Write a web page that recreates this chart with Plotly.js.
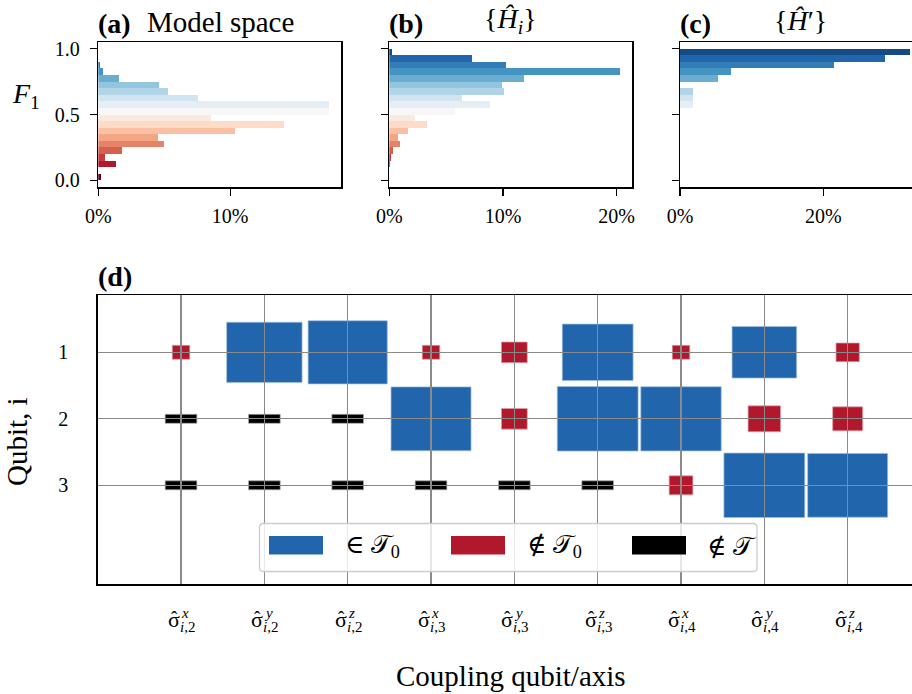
<!DOCTYPE html>
<html><head><meta charset="utf-8">
<script src="https://cdn.plot.ly/plotly-3.0.1.min.js"></script>
<style>html,body{margin:0;padding:0;background:#fff;} #chart{width:912px;height:694px;}</style>
</head><body><div id="chart"></div>
<script>
// ---------- data ----------
const binLeft = [0.00,0.05,0.10,0.15,0.20,0.25,0.30,0.35,0.40,0.45,0.50,0.55,0.60,0.65,0.70,0.75,0.80,0.85,0.90,0.95];
const binWidth = 0.05;
const pctModelSpace = [0.18,0,1.34,0.5,1.8,4.95,4.52,10.36,14.07,8.54,17.5,17.5,7.55,5.25,4.57,1.57,0.33,0.1,0,0];
const pctHi = [0,0,0.1,0.15,0.3,0.94,0.76,1.64,3.31,2.26,5.78,8.86,6.39,10.09,9.91,11.82,20.3,10.26,7.27,0.27];
const pctHprime = [0,0,0,0,0,0,0,0,0,0,0,1.77,1.77,1.77,0,5.3,7.12,21.5,28.6,32.1];
const pctTicksAB = [0,10,20];
const pctTickTextAB = ['0%','10%','20%'];
const pctTicksC = [0,20];
const pctTickTextC = ['0%','20%'];
const f1Ticks = [0,0.5,1];
const f1TickText = ['0.0','0.5','1.0'];

const couplingAxis = ['x','y','z','x','y','z','x','y','z'];
const couplingQubit = ['2','2','2','3','3','3','4','4','4'];
const qubitLabels = ['1','2','3'];
const magQ1 = [0.21,0.905,0.95,0.21,0.31,0.85,0.21,0.775,0.28];
const classQ1 = ['out0','in','in','out0','out0','in','out0','in','out0'];
const magQ2 = [null,null,null,0.96,0.31,0.97,0.965,0.39,0.36];
const classQ2 = ['outT','outT','outT','in','out0','in','in','out0','out0'];
const magQ3 = [null,null,null,null,null,null,0.285,0.97,0.96];
const classQ3 = ['outT','outT','outT','outT','outT','outT','out0','in','in'];
const legendLabels = ['∈ 𝒯<sub>0</sub>','∉ 𝒯<sub>0</sub>','∉ 𝒯'];

// ---------- styles ----------
const W = 912, H = 694;
const X = px => px / W;
const Y = py => 1 - py / H;
const FONT = 'Liberation Serif, Times New Roman, DejaVu Serif, serif';
const rdbu = [[0,'#67001f'],[0.1,'#b2182b'],[0.2,'#d6604d'],[0.3,'#f4a582'],[0.4,'#fddbc7'],
  [0.5,'#f7f7f7'],[0.6,'#d1e5f0'],[0.7,'#92c5de'],[0.8,'#4393c3'],[0.9,'#2166ac'],[1,'#053061']];
const classColor = {in:'#2166ac', out0:'#b2182b', outT:'#000000'};
const classEdge = {in:'rgba(160,190,225,0.9)', out0:'rgba(225,160,170,0.9)', outT:'rgba(170,170,170,0.9)'};
const dashW = 0.38, dashH = 0.135;

const binCenters = binLeft.map(b => b + binWidth/2);
function hist(vals, xa, ya){
  return {type:'bar', orientation:'h', x: vals, y: binCenters, width: binWidth,
    xaxis: xa, yaxis: ya, hoverinfo:'skip', showlegend:false,
    marker:{color: binLeft, colorscale: rdbu, cmin:0, cmax:1, showscale:false, line:{width:0}}};
}
const cols = couplingAxis.map((_, i) => i + 1);
const traces = [
  hist(pctModelSpace,'x','y'),
  hist(pctHi,'x2','y2'),
  hist(pctHprime,'x3','y3'),
  {type:'scatter', mode:'markers', x: cols, y: cols.map(()=>2), xaxis:'x4', yaxis:'y4',
   marker:{opacity:0}, hoverinfo:'skip', showlegend:false}
];

const shapes = [];
[[magQ1,classQ1],[magQ2,classQ2],[magQ3,classQ3]].forEach(([mags, cls], r) => {
  const yc = r + 1;
  mags.forEach((m, c) => {
    const xc = c + 1;
    const k = cls[c];
    const w = k === 'outT' ? dashW : m;
    const h = k === 'outT' ? dashH : m;
    shapes.push({type:'rect', xref:'x4', yref:'y4', layer:'below',
      x0: xc - w/2, x1: xc + w/2, y0: yc - h/2, y1: yc + h/2,
      fillcolor: classColor[k], line:{color: classEdge[k], width:0.8}});
  });
});

// legend frame (rounded)
function rrect(x0,y0,x1,y1,r){
  const p = (x,y)=> X(x)+','+Y(y);
  return 'M'+p(x0+r,y0)+' L'+p(x1-r,y0)+' Q'+p(x1,y0)+' '+p(x1,y0+r)+
    ' L'+p(x1,y1-r)+' Q'+p(x1,y1)+' '+p(x1-r,y1)+' L'+p(x0+r,y1)+' Q'+p(x0,y1)+' '+p(x0,y1-r)+
    ' L'+p(x0,y0+r)+' Q'+p(x0,y0)+' '+p(x0+r,y0)+' Z';
}
shapes.push({type:'path', xref:'paper', yref:'paper', layer:'above', path: rrect(259.5,523.5,757,571.5,4),
  fillcolor:'rgba(255,255,255,0.8)', line:{color:'#cccccc', width:1.3}});
const legPatchX = [269, 451, 632];
const legKeys = ['in','out0','outT'];
const legTextX = [343, 525, 705];
legKeys.forEach((k,i)=>{
  shapes.push({type:'rect', xref:'paper', yref:'paper', layer:'above',
    x0: X(legPatchX[i]), x1: X(legPatchX[i]+54), y0: Y(554.5), y1: Y(536),
    fillcolor: classColor[k], line:{width:0}});
});

const ann = [];
const tf = (size, extra) => Object.assign({family: FONT, size: size, color:'#000'}, extra||{});
function A(text, x, y, opts){ ann.push(Object.assign({text, x, y, xref:'paper', yref:'paper', showarrow:false,
  xanchor:'center', yanchor:'middle', font: tf(28)}, opts||{})); }
A('<b>(a)</b>', X(96), Y(23), {xanchor:'left'});
A('Model space', X(220), Y(22), {font: tf(29)});
A('<b>(b)</b>', X(387), Y(23), {xanchor:'left'});
A('{<i>Ĥ</i><sub><i>i</i></sub>}', X(510.6), Y(21));
A('<b>(c)</b>', X(678), Y(23), {xanchor:'left'});
A('{<i>Ĥ</i>′}', X(800.8), Y(21));
A('<i>F</i><sub>1</sub>', X(26), Y(96));
A('<b>(d)</b>', X(96), Y(276));
ann[ann.length-1].xanchor = 'left';
A('Qubit, i', X(17), Y(442), {textangle:-90, font: tf(29)});
A('Coupling qubit/axis', X(511), Y(676), {font: tf(29)});
legendLabels.forEach((t,i)=> A(t, X(legTextX[i]), Y(546), {xanchor:'left', font: tf(26)}));
// coupling tick labels (sigma-hat with stacked super/subscripts)
cols.forEach((c, i) => {
  ann.push({text:'σ', x:c, y:Y(619), xref:'x4', yref:'paper', showarrow:false, xanchor:'right', yanchor:'middle',
    xshift:1, font: tf(22)});
  ann.push({text:'ˆ', x:c, y:Y(617), xref:'x4', yref:'paper', showarrow:false, xanchor:'center', yanchor:'middle',
    xshift:-6.5, font: tf(19)});
  ann.push({text:'<i>'+couplingAxis[i]+'</i>', x:c, y:Y(612.5), xref:'x4', yref:'paper', showarrow:false,
    xanchor:'left', yanchor:'middle', xshift:-2, font: tf(15)});
  ann.push({text:'<i>i</i>,'+couplingQubit[i], x:c, y:Y(627), xref:'x4', yref:'paper', showarrow:false,
    xanchor:'left', yanchor:'middle', xshift:-3, font: tf(15)});
});

const axLine = {showline:true, linecolor:'#000', linewidth:1.5, zeroline:false, showgrid:false};
const topDom = [Y(187), Y(42)];
function xHist(dom, range, mirror, tv, tt){
  return Object.assign({}, axLine, {domain: dom, range: range, mirror: mirror, ticks:'outside', ticklen:7, tickwidth:1.4,
    tickcolor:'#000', tickvals: tv, ticktext: tt, tickfont: tf(20), ticklabelstandoff:3, fixedrange:true});
}
function yHist(anchor, labels, mirror){
  return Object.assign({}, axLine, {domain: topDom, range:[-0.05,1.05], anchor: anchor, mirror: mirror, ticks:'outside',
    ticklen:7, tickwidth:1.4, tickcolor:'#000', tickvals: f1Ticks, ticktext: f1TickText, showticklabels: labels,
    tickfont: tf(20), ticklabelstandoff:6, fixedrange:true});
}

const layout = {
  width: W, height: H, autosize:false,
  margin:{l:0,r:0,t:0,b:0,pad:0},
  paper_bgcolor:'#fff', plot_bgcolor:'rgba(0,0,0,0)',
  showlegend:false,
  bargap:0,
  xaxis: Object.assign(xHist([X(98.3), X(341)], [0,18.4], true, pctTicksAB, pctTickTextAB), {anchor:'y'}),
  yaxis: yHist('x', true, true),
  xaxis2: Object.assign(xHist([X(389.3), X(632)], [0,21.35], true, pctTicksAB, pctTickTextAB), {anchor:'y2'}),
  yaxis2: yHist('x2', false, true),
  xaxis3: Object.assign(xHist([X(680), 1], [0,32.36], true, pctTicksC, pctTickTextC), {anchor:'y3'}),
  yaxis3: yHist('x3', false, false),
  xaxis4: Object.assign({}, axLine, {domain:[X(97.7),1], range:[0,9.772], anchor:'y4', mirror:true,
    tickvals: cols, showticklabels:false, ticks:'', showgrid:true, gridcolor:'#8a8a8a', gridwidth:1.2, fixedrange:true}),
  yaxis4: Object.assign({}, axLine, {domain:[Y(584), Y(295)], range:[4.484,0.138], anchor:'x4', mirror:false,
    tickvals:[1,2,3], ticktext: qubitLabels, ticks:'', showgrid:true, gridcolor:'#8a8a8a', gridwidth:1.2,
    tickfont: tf(20), ticklabelstandoff:24, fixedrange:true}),
  shapes: shapes,
  annotations: ann
};

Plotly.newPlot('chart', traces, layout, {staticPlot:true, displayModeBar:false});
</script></body></html>
